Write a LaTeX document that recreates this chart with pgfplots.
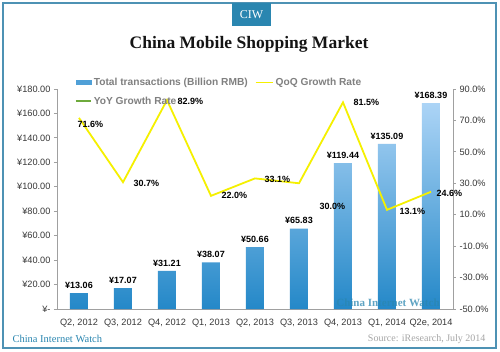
\documentclass[border=0pt]{standalone}
\usepackage{fontspec}
\setmainfont{Liberation Sans}
\newfontfamily\serif{Liberation Serif}
\usepackage{pgfplots}
\usepackage{pgfplotstable}
\pgfplotsset{compat=1.18}
\pgfkeys{/pgf/number format/assume math mode=true}

\definecolor{frameblue}{RGB}{78,146,180}
\definecolor{ciw}{RGB}{42,134,176}
\definecolor{bartop}{RGB}{172,212,246}
\definecolor{barbot}{RGB}{36,136,200}
\definecolor{barblue}{RGB}{80,160,215}
\definecolor{qoq}{RGB}{245,240,0}
\definecolor{yoy}{RGB}{110,170,60}
\definecolor{axisgray}{RGB}{160,160,160}

\pgfplotstableread{
x total qoq
0 13.06 71.6
1 17.07 30.7
2 31.21 82.9
3 38.07 22.0
4 50.66 33.1
5 65.83 30.0
6 119.44 81.5
7 135.09 13.1
8 168.39 24.6
}\mydata

\begin{document}
\begin{tikzpicture}
\path[use as bounding box] (-57pt,-42pt) rectangle (443pt,309pt);
\fill[white] (-57pt,-42pt) rectangle (443pt,309pt);

\begin{axis}[
  at={(0pt,0pt)}, anchor=south west,
  scale only axis, width=396pt, height=220pt,
  xmin=-0.5, xmax=8.5, ymin=0, ymax=180,
  axis x line*=bottom, axis y line*=left,
  axis line style={axisgray, line width=0.8pt},
  xtick={0,...,8},
  xticklabels={{Q2, 2012},{Q3, 2012},{Q4, 2012},{Q1, 2013},{Q2, 2013},{Q3, 2013},{Q4, 2013},{Q1, 2014},{Q2e, 2014}},
  x tick style={draw=none},
  xticklabel style={yshift=-4pt},
  ytick={0,20,...,180},
  yticklabels={¥-,¥20.00,¥40.00,¥60.00,¥80.00,¥100.00,¥120.00,¥140.00,¥160.00,¥180.00},
  tick align=outside, major tick length=3pt,
  y tick style={axisgray, line width=0.8pt},
  tick label style={font=\fontsize{9.2}{10}\selectfont, text=black!78},
]
\addplot[ybar, bar width=18pt, draw=none, shading=axis, top color=bartop, bottom color=barbot] table[x=x, y=total] {\mydata};
\addplot[draw=none, mark=none,
  nodes near coords={¥\pgfmathprintnumber[fixed,fixed zerofill,precision=2]{\pgfplotspointmeta}},
  nodes near coords style={font=\bfseries\fontsize{9}{10}\selectfont, text=black, anchor=south, yshift=1pt}]
  table[x=x, y=total] {\mydata};
\end{axis}

\begin{axis}[
  at={(0pt,0pt)}, anchor=south west,
  scale only axis, width=396pt, height=220pt,
  xmin=-0.5, xmax=8.5, ymin=-50, ymax=90,
  clip=false,
  axis x line=none, axis y line*=right,
  axis line style={axisgray, line width=0.8pt},
  ytick={-50,-30,...,90},
  yticklabels={-50.0\%,-30.0\%,-10.0\%,10.0\%,30.0\%,50.0\%,70.0\%,90.0\%},
  tick align=outside, major tick length=3pt,
  y tick style={axisgray, line width=0.8pt},
  tick label style={font=\fontsize{9.2}{10}\selectfont, text=black!78},
  legend columns=2,
  legend cell align=left,
  legend style={at={(0.045,1.06)}, anchor=north west, draw=none, fill=none,
    inner sep=0pt, font=\bfseries\fontsize{10.2}{11}\selectfont, text=black!50,
    row sep=6pt,
    /tikz/every even column/.append style={column sep=5pt}},
]
\addlegendimage{legend image code/.code={\fill[barblue] (0pt,-2pt) rectangle (15pt,2pt);}}
\addlegendentry{Total transactions (Billion RMB)}
\addplot[qoq, line width=1.8pt, mark=none] table[x=x, y=qoq] {\mydata};
\addlegendentry{QoQ Growth Rate}
\addlegendimage{legend image code/.code={\draw[yoy, line width=1.8pt] (0pt,0pt) -- (15pt,0pt);}}
\addlegendentry{YoY Growth Rate}

\begin{scope}[every node/.style={anchor=west, font=\bfseries\fontsize{9}{10}\selectfont, text=black}]
\node[xshift=-5pt, yshift=-6pt] at (axis cs:0,71.6) {71.6\%};
\node[xshift=7pt, yshift=-1pt] at (axis cs:1,30.7) {30.7\%};
\node[xshift=7pt, yshift=-1pt] at (axis cs:2,82.9) {82.9\%};
\node[xshift=7pt, yshift=0pt] at (axis cs:3,22.0) {22.0\%};
\node[xshift=6pt, yshift=-1pt] at (axis cs:4,33.1) {33.1\%};
\node[xshift=17pt, yshift=-23pt] at (axis cs:5,30.0) {30.0\%};
\node[xshift=7pt, yshift=0pt] at (axis cs:6,81.5) {81.5\%};
\node[xshift=9pt, yshift=-2pt] at (axis cs:7,13.1) {13.1\%};
\node[xshift=2pt, yshift=-2pt] at (axis cs:8,24.6) {24.6\%};
\end{scope}
\end{axis}

\node[text=ciw, opacity=0.75, font=\serif\bfseries\fontsize{11}{12}\selectfont] at (331pt,6pt) {China Internet Watch};

\draw[frameblue, line width=2.5pt] (-54pt,-39pt) rectangle (439pt,306pt);
\fill[ciw] (175pt,283pt) rectangle (214pt,306pt);
\node[text=white, font=\serif\fontsize{12}{14}\selectfont] at (194.5pt,294.5pt) {CIW};
\node[font=\serif\bfseries\fontsize{17.5}{20}\selectfont, text=black!92] at (192pt,265pt) {China Mobile Shopping Market};
\node[anchor=west, text=ciw, font=\serif\fontsize{10.5}{12}\selectfont] at (-48pt,-30pt) {China Internet Watch};
\node[anchor=east, text=black!35, font=\serif\fontsize{10}{12}\selectfont] at (432pt,-30pt) {Source: iResearch, July 2014};
\end{tikzpicture}
\end{document}
